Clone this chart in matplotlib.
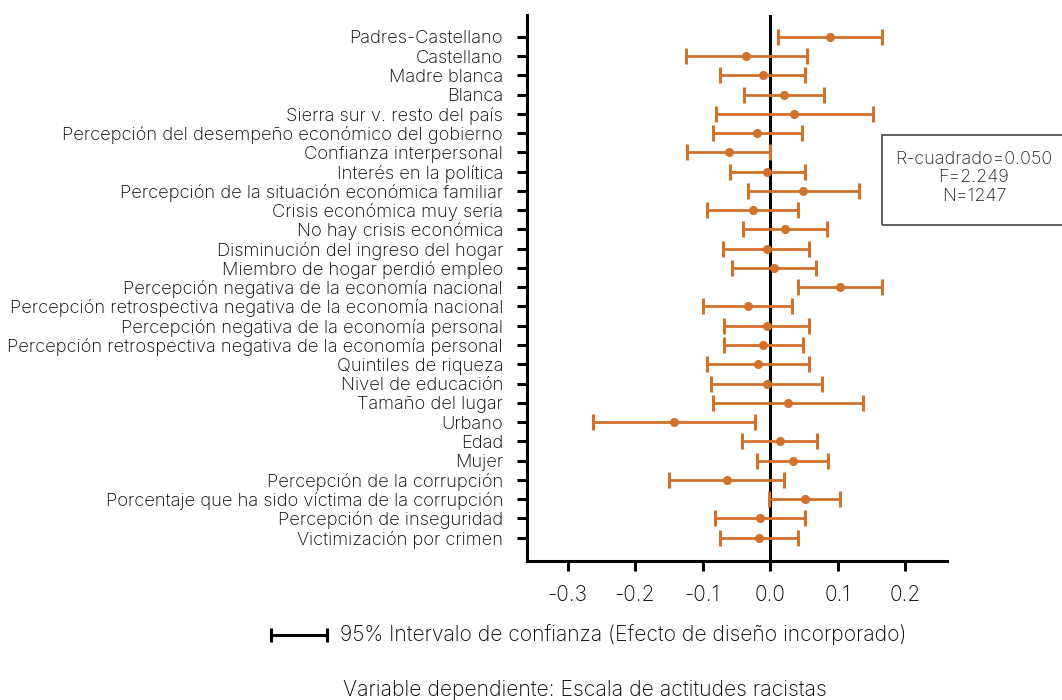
import matplotlib
matplotlib.use('Agg')
import matplotlib.pyplot as plt
from matplotlib.lines import Line2D
from matplotlib.patches import Rectangle

plt.rcParams['font.family'] = ['Inter', 'DejaVu Sans']
plt.rcParams['font.weight'] = 'light'

variables = [
    'Padres-Castellano', 'Castellano', 'Madre blanca', 'Blanca',
    'Sierra sur v. resto del país',
    'Percepción del desempeño económico del gobierno',
    'Confianza interpersonal', 'Interés en la política',
    'Percepción de la situación económica familiar',
    'Crisis económica muy seria', 'No hay crisis económica',
    'Disminución del ingreso del hogar', 'Miembro de hogar perdió empleo',
    'Percepción negativa de la economía nacional',
    'Percepción retrospectiva negativa de la economía nacional',
    'Percepción negativa de la economía personal',
    'Percepción retrospectiva negativa de la economía personal',
    'Quintiles de riqueza', 'Nivel de educación', 'Tamaño del lugar',
    'Urbano', 'Edad', 'Mujer', 'Percepción de la corrupción',
    'Porcentaje que ha sido víctima de la corrupción',
    'Percepción de inseguridad', 'Victimización por crimen',
]
coef = [0.089, -0.035, -0.011, 0.021, 0.036, -0.020, -0.061, -0.005, 0.049,
        -0.026, 0.022, -0.005, 0.006, 0.104, -0.033, -0.005, -0.010, -0.018,
        -0.005, 0.026, -0.143, 0.014, 0.034, -0.064, 0.052, -0.015, -0.016]
ci_low = [0.012, -0.124, -0.074, -0.038, -0.080, -0.085, -0.123, -0.060, -0.032,
          -0.093, -0.040, -0.069, -0.056, 0.042, -0.099, -0.068, -0.068, -0.094,
          -0.087, -0.084, -0.262, -0.041, -0.019, -0.149, -0.001, -0.081, -0.074]
ci_high = [0.165, 0.055, 0.051, 0.080, 0.152, 0.047, 0.000, 0.051, 0.131,
           0.041, 0.085, 0.058, 0.068, 0.166, 0.033, 0.057, 0.049, 0.058,
           0.077, 0.137, -0.023, 0.070, 0.086, 0.021, 0.104, 0.051, 0.042]
x_ticks = [-0.3, -0.2, -0.1, 0.0, 0.1, 0.2]
stats_text = 'R-cuadrado=0.050\nF=2.249\nN=1247'
legend_text = '95% Intervalo de confianza (Efecto de diseño incorporado)'
dep_text = 'Variable dependiente: Escala de actitudes racistas'

orange = '#D2722A'
W, H = 1062, 700

fig = plt.figure(figsize=(W / 100, H / 100), dpi=100)
ax = fig.add_axes([527 / W, 1 - 561 / H, 420 / W, 546 / H])

ypos = list(range(len(variables)))
err_lo = [c - l for c, l in zip(coef, ci_low)]
err_hi = [h - c for c, h in zip(coef, ci_high)]
ax.errorbar(coef, ypos, xerr=[err_lo, err_hi], fmt='o', color=orange,
            ecolor=orange, elinewidth=2, capsize=5.5, capthick=2.2,
            markersize=5.5, zorder=3)
ax.axvline(0, color='black', lw=2.2, zorder=2)

ax.set_xlim(-0.36, 0.262)
ax.set_ylim(len(variables) - 1 + 1.21, -1.13)
ax.set_yticks(ypos)
ax.set_yticklabels(variables, fontsize=13.2)
ax.set_xticks(x_ticks)
ax.set_xticklabels([f'{t:.1f}' for t in x_ticks], fontsize=15)
ax.tick_params(axis='both', direction='out', length=7.2, width=2.2, color='black')
ax.tick_params(axis='y', pad=10)
ax.tick_params(axis='x', pad=10)
for side in ['top', 'right']:
    ax.spines[side].set_visible(False)
for side in ['left', 'bottom']:
    ax.spines[side].set_linewidth(2.2)

# caja de estadísticas (se corta en el borde derecho)
fig.add_artist(Rectangle((882 / W, 1 - 225 / H), 200 / W, 90 / H,
                         transform=fig.transFigure, fill=False,
                         edgecolor='#444444', lw=1.2))
fig.text(974 / W, 1 - 178 / H, stats_text, ha='center', va='center',
         fontsize=13, linespacing=1.15, color='#222222')

# leyenda
fig.add_artist(Line2D([271 / W, 327 / W], [1 - 635 / H, 1 - 635 / H],
                      transform=fig.transFigure, color='black', lw=2.2,
                      marker='|', markersize=10, markeredgewidth=2.2))
fig.text(340 / W, 1 - 635 / H, legend_text, ha='left', va='center', fontsize=15.2)
fig.text(585 / W, 1 - 690 / H, dep_text, ha='center', va='center', fontsize=15.3)

fig.savefig('out.png', dpi=100)
